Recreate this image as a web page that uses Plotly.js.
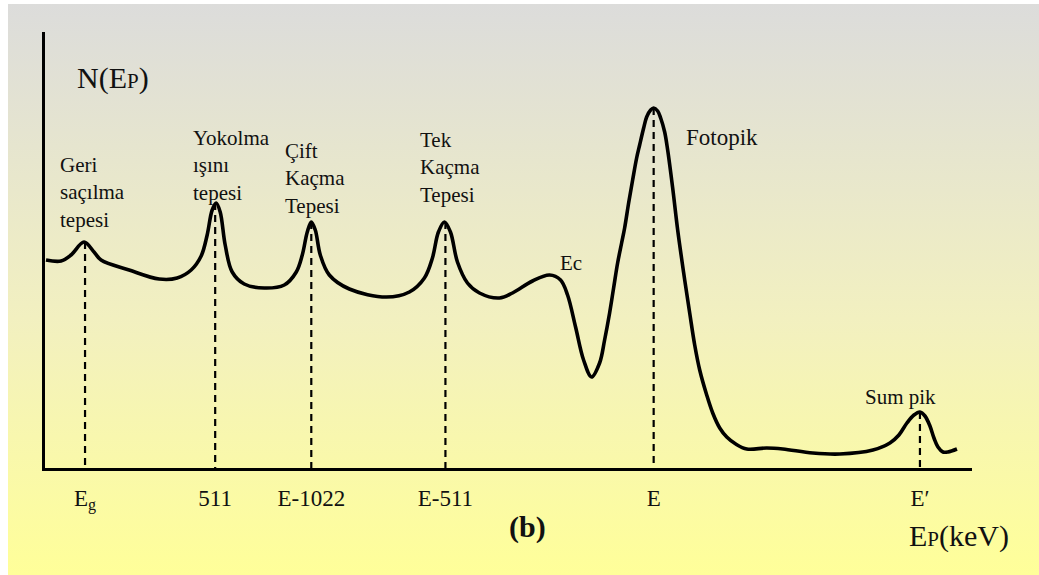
<!DOCTYPE html>
<html>
<head>
<meta charset="utf-8">
<script src="https://cdn.plot.ly/plotly-3.0.1.min.js"></script>
<style>
  html, body { margin: 0; padding: 0; background: #ffffff; }
  #bg {
    position: absolute; left: 8px; top: 4px; width: 1031px; height: 571px;
    background: linear-gradient(to bottom, #dcdcdb 0%, #f2f0c0 55%, #ffff99 100%);
  }
  #chart { position: absolute; left: 0; top: 0; width: 1039px; height: 575px; }
</style>
</head>
<body>
<div id="bg"></div>
<div id="chart"></div>
<script>
// Gamma-ray pulse-height spectrum (schematic), arbitrary units
const energy = [1, 16, 26, 39, 49, 56, 84, 114, 132, 146, 156, 162, 167, 171, 175, 180, 187, 199, 219, 239,
  251, 257, 262, 266, 270, 275, 284, 304, 341, 364, 379, 387, 393, 399, 405, 412, 422, 434, 454, 467,
  487, 504, 515, 522, 530, 538, 546, 554, 559, 564, 568, 572, 576, 579, 583, 587, 591, 594, 598, 601, 605, 608,
  612, 615, 619, 622, 627, 632, 638, 644, 649, 654, 661, 667, 674, 681, 690, 701, 721, 737, 767, 794, 827, 844,
  853, 861, 868, 874, 879, 884, 888, 892, 897, 902, 911];
const counts = [208, 207, 213, 226, 216, 208, 198, 189, 190, 198, 212, 233, 258, 265, 256, 223, 196, 184, 180, 183,
  196, 213, 236, 246, 238, 213, 193, 179, 171, 176, 190, 210, 236, 246, 236, 206, 185, 175, 170, 175,
  187, 193, 188, 173, 141, 108, 91, 105, 128, 155, 180, 205, 225, 240, 265, 288, 310, 323, 340, 351, 358, 360,
  357, 350, 336, 318, 280, 238, 195, 155, 123, 98, 73, 55, 40, 31, 24, 19, 20, 19, 15, 14, 18, 25,
  33, 45, 53, 56, 52, 42, 30, 21, 16, 16, 19];

// Marked peak energies, their heights, and the axis labels under them
const peakEnergy = [40, 170, 266, 400, 608, 874];
const peakCounts = [226, 265, 246, 246, 360, 56];
const peakLabels = ['E<sub>g</sub>', '511', 'E-1022', 'E-511', 'E', 'E\u2032'];

// Peak names written beside the spectrum
const peakNames = ['Geri<br>saçılma<br>tepesi', 'Yokolma<br>ışını<br>tepesi', 'Çift<br>Kaçma<br>Tepesi',
  'Tek<br>Kaçma<br>Tepesi', 'Ec', 'Fotopik', 'Sum pik'];

const serif = 'Liberation Serif, Times New Roman, serif';

// vertical dashed markers from each peak down to the energy axis
const dashX = [], dashY = [];
peakEnergy.forEach((e, i) => { dashX.push(e, e, null); dashY.push(peakCounts[i], 0, null); });

const traces = [
  {
    x: dashX, y: dashY, mode: 'lines', hoverinfo: 'skip',
    line: { color: '#000000', width: 2.2, dash: '7px,5px' }
  },
  {
    x: energy, y: counts, mode: 'lines',
    line: { color: '#000000', width: 3.6, shape: 'spline', smoothing: 1 }
  }
];

const ink = '#111111';
const nameStyle = { family: serif, size: 21, color: ink };
const inPlot = [
  { text: peakNames[0], x: 13, y: 276, xanchor: 'left', align: 'left', font: nameStyle },
  { text: peakNames[1], x: 146, y: 303, xanchor: 'left', align: 'left', font: nameStyle },
  { text: peakNames[2], x: 238, y: 290, xanchor: 'left', align: 'left', font: nameStyle },
  { text: peakNames[3], x: 373, y: 301, xanchor: 'left', align: 'left', font: nameStyle },
  { text: peakNames[4], x: 525, y: 205, xanchor: 'center', font: nameStyle },
  { text: peakNames[5], x: 638, y: 331, xanchor: 'left', align: 'left',
    font: { family: serif, size: 23, color: ink } },
  { text: peakNames[6], x: 855, y: 71, xanchor: 'center',
    font: { family: serif, size: 21, color: ink } },
  { text: 'N(E<span style="font-size:21px">P</span>)', x: 68, y: 390, xanchor: 'center',
    font: { family: serif, size: 30, color: ink } }
].map(a => Object.assign({ xref: 'x', yref: 'y', yanchor: 'middle', showarrow: false }, a));

// captions below the energy axis, placed on the page rather than on the data
const belowPlot = [
  { text: '<b>(b)</b>', x: 0.520, y: -0.135, xanchor: 'center',
    font: { family: serif, size: 30, color: ink } },
  { text: 'E<span style="font-size:21px">P</span>(keV)', x: 0.986, y: -0.156, xanchor: 'center',
    font: { family: serif, size: 30, color: ink } }
].map(a => Object.assign({ xref: 'paper', yref: 'paper', yanchor: 'middle', showarrow: false }, a));

const layout = {
  width: 1039, height: 575,
  margin: { l: 45, r: 67, t: 32, b: 107 },
  paper_bgcolor: 'rgba(0,0,0,0)',
  plot_bgcolor: 'rgba(0,0,0,0)',
  showlegend: false,
  font: { family: serif, color: ink },
  xaxis: {
    range: [0, 926], showgrid: false, zeroline: false,
    showline: true, linecolor: '#000000', linewidth: 3,
    tickmode: 'array', tickvals: peakEnergy, ticktext: peakLabels,
    ticks: '', ticklabelstandoff: 7,
    tickfont: { family: serif, size: 23, color: ink },
    fixedrange: true
  },
  yaxis: {
    range: [0, 436], showgrid: false, zeroline: false,
    showline: true, linecolor: '#000000', linewidth: 3,
    showticklabels: false, ticks: '', fixedrange: true
  },
  annotations: inPlot.concat(belowPlot)
};

Plotly.newPlot('chart', traces, layout, { displayModeBar: false, staticPlot: true });
</script>
</body>
</html>
